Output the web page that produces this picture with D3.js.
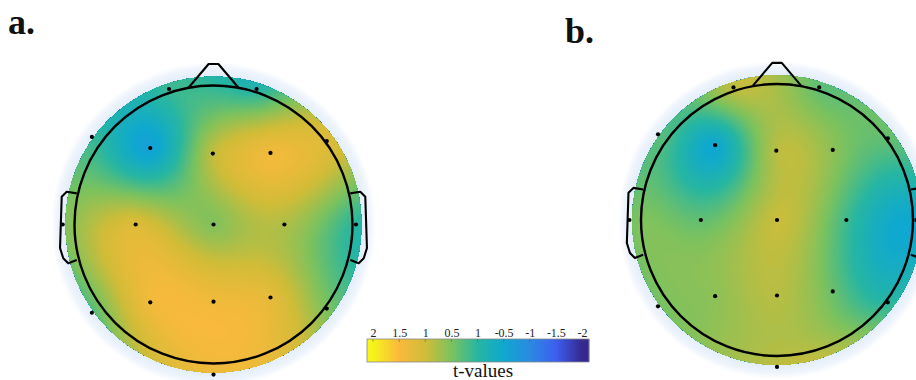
<!DOCTYPE html>
<html>
<head>
<meta charset="utf-8">
<script src="https://cdn.jsdelivr.net/npm/d3@7"></script>
<style>
  body { margin: 0; background: #fff; }
  svg { display: block; }
</style>
</head>
<body>
<div id="chart"></div>
<script>
// channel locations in head units (radius 1), x to the right, y towards the back
const channels = ["Fp1","Fp2","F7","F3","Fz","F4","F8","T3","C3","Cz","C4","T4","T5","P3","Pz","P4","T6","Oz"];
const chanX = [-0.32, 0.31, -0.875, -0.455, -0.005, 0.41, 0.815, -1.085, -0.56, 0, 0.51, 1.025, -0.875, -0.455, 0, 0.41, 0.815, 0];
const chanY = [-0.975, -0.975, -0.63, -0.55, -0.51, -0.515, -0.6, 0, 0, 0, 0, 0, 0.635, 0.56, 0.555, 0.525, 0.605, 1.08];

// t-values at each channel
const tValuesA = [0.1, -0.05, 0.1, -0.6, 0.9, 1.4, 1.15, 0.5, 1.15, 0.55, 0.8, 0.0, 0.25, 1.4, 1.4, 1.25, 0.5, 1.35];
const tValuesB = [0.9, 0.35, 0.3, -0.5, 0.85, 0.6, 0.35, 0.45, 0.35, 0.95, 0.15, -0.45, 0.45, 0.6, 0.85, 0.4, 0.0, 0.9];

const panelLabels = ["a.", "b."];

// colorbar
const tickValues = [2, 1.5, 1, 0.5, 0, -0.5, -1, -1.5, -2];
const tickLabels = ["2", "1.5", "1", "0.5", "1", "-0.5", "-1", "-1.5", "-2"];

// parula-like map
const colorDomain = [-2, -1.5, -1, -0.5, 0, 0.5, 1, 1.5, 2];
const colorRange = ["#35288f", "#3d5ff0", "#2a8ae2", "#0fa8d0", "#27b6a2", "#7cc25e", "#d0bc38", "#f9b93c", "#f6f41a"];

const W = 916, H = 380;
const svg = d3.select("#chart").append("svg").attr("width", W).attr("height", H);
const defs = svg.append("defs");

const colorScale = d3.scaleLinear()
  .domain(colorDomain)
  .range(colorRange)
  .interpolate(d3.interpolateRgb)
  .clamp(true);

function solve(M, b) {
  const n = b.length;
  const A = M.map((row, i) => row.concat([b[i]]));
  for (let c = 0; c < n; c++) {
    let p = c;
    for (let r = c + 1; r < n; r++) if (Math.abs(A[r][c]) > Math.abs(A[p][c])) p = r;
    [A[c], A[p]] = [A[p], A[c]];
    for (let r = c + 1; r < n; r++) {
      const f = A[r][c] / A[c][c];
      for (let k = c; k <= n; k++) A[r][k] -= f * A[c][k];
    }
  }
  const x = new Array(n).fill(0);
  for (let r = n - 1; r >= 0; r--) {
    let s = A[r][n];
    for (let k = r + 1; k < n; k++) s -= A[r][k] * x[k];
    x[r] = s / A[r][r];
  }
  return x;
}

// biharmonic spline (same as griddata 'v4' used by topoplot)
function makeField(values) {
  const G = d => d < 1e-9 ? 0 : d * d * (Math.log(d) - 1);
  const n = values.length;
  const M = d3.range(n).map(i => d3.range(n).map(j =>
    G(Math.hypot(chanX[i] - chanX[j], chanY[i] - chanY[j]))));
  const w = solve(M, values);
  return (px, py) => {
    let s = 0;
    for (let j = 0; j < n; j++) s += w[j] * G(Math.hypot(px - chanX[j], py - chanY[j]));
    return s;
  };
}

function drawHead(id, cx, cy, r, values) {
  const x = d3.scaleLinear().domain([-1, 1]).range([cx - r, cx + r]);
  const y = d3.scaleLinear().domain([-1, 1]).range([cy - r, cy + r]);
  const rDisk = 1.065, rHalo = 1.17;
  const g = svg.append("g");

  const grad = defs.append("radialGradient").attr("id", "halo-" + id);
  grad.append("stop").attr("offset", 0).attr("stop-color", "#e3edf9");
  grad.append("stop").attr("offset", rDisk / rHalo).attr("stop-color", "#e3edf9");
  grad.append("stop").attr("offset", 0.96).attr("stop-color", "#eef4fc");
  grad.append("stop").attr("offset", 1).attr("stop-color", "#ffffff");

  g.append("circle").attr("cx", x(0)).attr("cy", y(0))
    .attr("r", x(rHalo) - x(0)).attr("fill", `url(#halo-${id})`);

  defs.append("clipPath").attr("id", "clip-" + id)
    .append("circle").attr("cx", x(0)).attr("cy", y(0)).attr("r", x(rDisk) - x(0));

  const N = 150, ext = 1.12, step = 2 * ext / N;
  const f = makeField(values);
  const grid = new Float64Array(N * N);
  for (let j = 0; j < N; j++)
    for (let i = 0; i < N; i++)
      grid[j * N + i] = f(-ext + (i + 0.5) * step, -ext + (j + 0.5) * step);

  const contours = d3.contours().size([N, N])
    .thresholds(d3.range(-2.4, 2.41, 0.02))(grid);
  const proj = d3.geoTransform({
    point(px, py) { this.stream.point(x(-ext + px * step), y(-ext + py * step)); }
  });
  const path = d3.geoPath(proj);

  g.append("g").attr("clip-path", `url(#clip-${id})`)
    .selectAll("path").data(contours).join("path")
    .attr("d", path)
    .attr("fill", d => colorScale(d.value + 0.01));

  // head outline
  g.append("circle").attr("cx", x(0)).attr("cy", y(0)).attr("r", x(1) - x(0))
    .attr("fill", "none").attr("stroke", "#000").attr("stroke-width", 2.4);

  const line = d3.line().x(d => x(d[0])).y(d => y(d[1]));
  const nose = [[-0.18, -0.984], [-0.035, -1.155], [0.035, -1.155], [0.18, -0.984]];
  const ear = [[-0.984, -0.224], [-1.056, -0.236], [-1.092, -0.2], [-1.104, 0.169],
               [-1.081, 0.243], [-1.045, 0.279], [-0.984, 0.255]];
  const outline = [nose, ear, ear.map(p => [-p[0], p[1]])];
  g.selectAll("path.outline").data(outline).join("path")
    .attr("class", "outline")
    .attr("d", line)
    .attr("fill", "none").attr("stroke", "#000").attr("stroke-width", 2.1)
    .attr("stroke-linejoin", "round");

  g.selectAll("circle.chan").data(channels).join("circle")
    .attr("class", "chan")
    .attr("cx", (d, i) => x(chanX[i]))
    .attr("cy", (d, i) => y(chanY[i]))
    .attr("r", 2.1)
    .attr("fill", "#000");
}

drawHead("a", 213.5, 224.5, 139, tValuesA);
drawHead("b", 777, 220, 136, tValuesB);

svg.selectAll("text.panel").data(panelLabels).join("text")
  .attr("class", "panel")
  .attr("x", (d, i) => i === 0 ? 8 : 565)
  .attr("y", (d, i) => i === 0 ? 34 : 43)
  .attr("font-family", "Liberation Serif, Times New Roman, serif")
  .attr("font-weight", "bold")
  .attr("font-size", 36)
  .attr("fill", "#111")
  .text(d => d);

// colorbar
const cbLeft = 367, cbRight = 589, cbTop = 339, cbH = 23;
const cbX = d3.scaleLinear().domain([2, -2]).range([373, 582]);
const cb = svg.append("g");
cb.selectAll("rect.px").data(d3.range(cbLeft, cbRight)).join("rect")
  .attr("class", "px")
  .attr("x", d => d).attr("y", cbTop)
  .attr("width", 1.3).attr("height", cbH)
  .attr("fill", d => colorScale(cbX.invert(d + 0.5)));
cb.append("rect").attr("x", cbLeft).attr("y", cbTop)
  .attr("width", cbRight - cbLeft).attr("height", cbH)
  .attr("fill", "none").attr("stroke", "#8a8a8a").attr("stroke-width", 0.8);
cb.selectAll("line.tk").data(tickValues).join("line")
  .attr("class", "tk")
  .attr("x1", d => cbX(d)).attr("x2", d => cbX(d))
  .attr("y1", cbTop).attr("y2", cbTop + 3)
  .attr("stroke", "#555").attr("stroke-width", 0.8).attr("opacity", 0.6);

const axis = cb.append("g").attr("transform", `translate(0,${cbTop})`)
  .call(d3.axisTop(cbX).tickValues(tickValues)
    .tickFormat((d, i) => tickLabels[i]).tickSize(0).tickPadding(2));
axis.select(".domain").remove();
axis.selectAll("text")
  .attr("font-family", "Liberation Serif, Times New Roman, serif")
  .attr("font-size", 12)
  .attr("fill", "#222");

cb.append("text")
  .attr("x", 483).attr("y", 377)
  .attr("text-anchor", "middle")
  .attr("font-family", "Liberation Serif, Times New Roman, serif")
  .attr("font-size", 19)
  .attr("fill", "#111")
  .text("t-values");
</script>
</body>
</html>
